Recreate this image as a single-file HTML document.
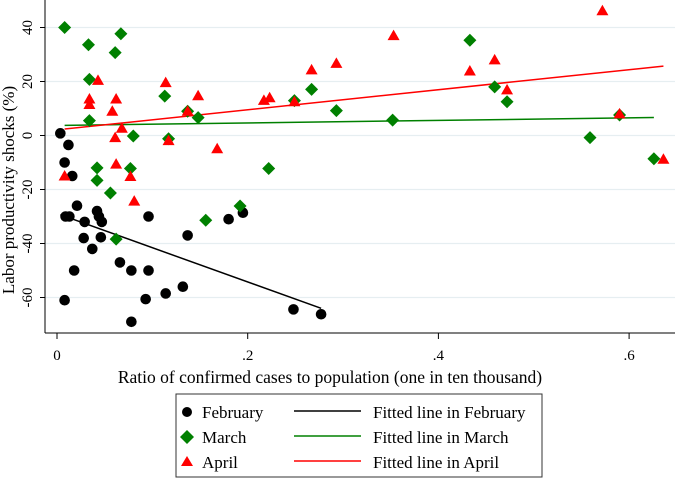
<!DOCTYPE html>
<html><head><meta charset="utf-8"><style>
html,body{margin:0;padding:0;background:#fff}
svg{display:block;font-family:"Liberation Serif",serif}
</style></head><body>
<svg id="chart" width="675" height="479" viewBox="0 0 675 479" xmlns="http://www.w3.org/2000/svg">
<g id="grid"></g>
<g id="fits"></g>
<g id="marks"></g>
<g id="axes"></g>
<g>
<rect x="176" y="394" width="366" height="83" fill="#fff" stroke="#333" stroke-width="1"/>
<circle cx="187" cy="412" r="5" fill="#000"/>
<text x="202" y="418" font-size="17">February</text>
<polygon points="187,430 194,437 187,444 180,437" fill="#008000"/>
<text x="202" y="443" font-size="17">March</text>
<polygon points="187,456 193,466 181,466" fill="#ff0000"/>
<text x="202" y="468" font-size="17">April</text>
<line x1="294" y1="411" x2="361" y2="411" stroke="#000" stroke-width="1.5"/>
<text x="373" y="418" font-size="17">Fitted line in February</text>
<line x1="294" y1="436" x2="361" y2="436" stroke="#008000" stroke-width="1.5"/>
<text x="373" y="443" font-size="17">Fitted line in March</text>
<line x1="294" y1="461" x2="361" y2="461" stroke="#ff0000" stroke-width="1.5"/>
<text x="373" y="468" font-size="17">Fitted line in April</text>
</g>
</svg>
<script>
const febX=[.0035,.012,.008,.016,.021,.009,.013,.029,.042,.044,.047,.028,.046,.037,.018,.008,.066,.078,.078,.096,.096,.093,.114,.132,.137,.180,.195,.248,.277];
const febY=[0.8,-3.5,-10,-15,-26,-30,-30,-32,-28,-30,-32,-38,-37.7,-42,-50,-61,-47,-50,-69,-30,-50,-60.6,-58.5,-56,-37,-31,-28.6,-64.4,-66.2];
const marX=[.008,.033,.067,.061,.034,.034,.080,.042,.042,.056,.077,.062,.113,.117,.137,.148,.156,.192,.222,.249,.267,.293,.352,.433,.459,.472,.559,.590,.626];
const marY=[40,33.6,37.7,30.7,20.8,5.5,-0.2,-12,-16.6,-21.3,-12.2,-38.4,14.6,-1.2,9,6.6,-31.4,-26.1,-12.2,12.9,17.1,9.2,5.7,35.3,18,12.5,-0.8,7.6,-8.6];
const aprX=[.008,.043,.034,.034,.058,.062,.061,.068,.062,.077,.081,.114,.117,.137,.148,.168,.217,.223,.249,.267,.293,.353,.433,.459,.472,.572,.590,.636];
const aprY=[-15,20.4,13.5,11.5,9,13.5,-0.8,2.7,-10.6,-15.2,-24.3,19.6,-1.9,9,14.7,-4.9,13,14,12.5,24.3,26.7,37,23.9,28,16.9,46.2,8,-8.8];
const xTicks=[0,.2,.4,.6];
const xTickLabels=["0",".2",".4",".6"];
const yTicks=[-60,-40,-20,0,20,40];
const yTickLabels=["-60","-40","-20","0","20","40"];
const NS="http://www.w3.org/2000/svg";
const sx=v=>57+v*953.5;
const sy=v=>135.5-v*2.7;
function mk(tag,attrs,parent){const e=document.createElementNS(NS,tag);for(const k in attrs)e.setAttribute(k,attrs[k]);parent.appendChild(e);return e;}
const grid=document.getElementById('grid'),axes=document.getElementById('axes'),marks=document.getElementById('marks'),fits=document.getElementById('fits');
yTicks.forEach((t,i)=>{
  const g=mk('line',{x1:45,x2:675,y1:sy(t),y2:sy(t),stroke:'#e6eef1','stroke-width':1.2},grid);
  
  
  const tk=mk('line',{x1:40,x2:45,y1:sy(t),y2:sy(t),stroke:'#000'},axes);
  
  
  const tx=mk('text',{x:0,y:0,'font-size':15,'text-anchor':'middle',transform:`translate(32,${sy(t)}) rotate(-90)`},axes);
  tx.textContent=yTickLabels[i];
  
  
});
xTicks.forEach((t,i)=>{
  const tk=mk('line',{x1:sx(t),x2:sx(t),y1:333,y2:339,stroke:'#000'},axes);
  
  
  const tx=mk('text',{x:sx(t),y:360,'font-size':15,'text-anchor':'middle'},axes);
  tx.textContent=xTickLabels[i];
  
  
});
const ax1=mk('line',{x1:45,x2:45,y1:0,y2:333,stroke:'#000'},axes);


const ax2=mk('line',{x1:45,x2:675,y1:333,y2:333,stroke:'#000'},axes);


const xt=mk('text',{x:330,y:383,'font-size':17.5,'text-anchor':'middle'},axes);
xt.textContent='Ratio of confirmed cases to population (one in ten thousand)';


const yt=mk('text',{x:0,y:0,'font-size':17,'text-anchor':'middle',transform:'translate(14,190) rotate(-90)'},axes);
yt.textContent='Labor productivity shocks (%)';


function fit(X,Y,color,name){
  const n=X.length,mx=X.reduce((a,b)=>a+b)/n,my=Y.reduce((a,b)=>a+b)/n;
  let sxy=0,sxx=0;for(let i=0;i<n;i++){sxy+=(X[i]-mx)*(Y[i]-my);sxx+=(X[i]-mx)**2;}
  const b=sxy/sxx,a=my-b*mx,x0=Math.min(...X),x1=Math.max(...X);
  const l=mk('line',{x1:sx(x0),y1:sy(a+b*x0),x2:sx(x1),y2:sy(a+b*x1),stroke:color,'stroke-width':1.5},fits);
  
  
}
fit(febX,febY,'#000','fit-line-february');
fit(marX,marY,'#008000','fit-line-march');
fit(aprX,aprY,'#ff0000','fit-line-april');
febX.forEach((x,i)=>{
  const c=mk('circle',{cx:sx(x),cy:sy(febY[i]),r:5.3,fill:'#000'},marks);
  
  
});
marX.forEach((x,i)=>{
  const cx=sx(x),cy=sy(marY[i]),d=6.5;
  const p=mk('polygon',{points:`${cx},${cy-d} ${cx+d},${cy} ${cx},${cy+d} ${cx-d},${cy}`,fill:'#008000'},marks);
  
  
});
aprX.forEach((x,i)=>{
  const cx=sx(x),cy=sy(aprY[i]);
  const p=mk('polygon',{points:`${cx},${cy-6} ${cx+6},${cy+4.5} ${cx-6},${cy+4.5}`,fill:'#ff0000'},marks);
  
  
});
</script>
</body></html>
